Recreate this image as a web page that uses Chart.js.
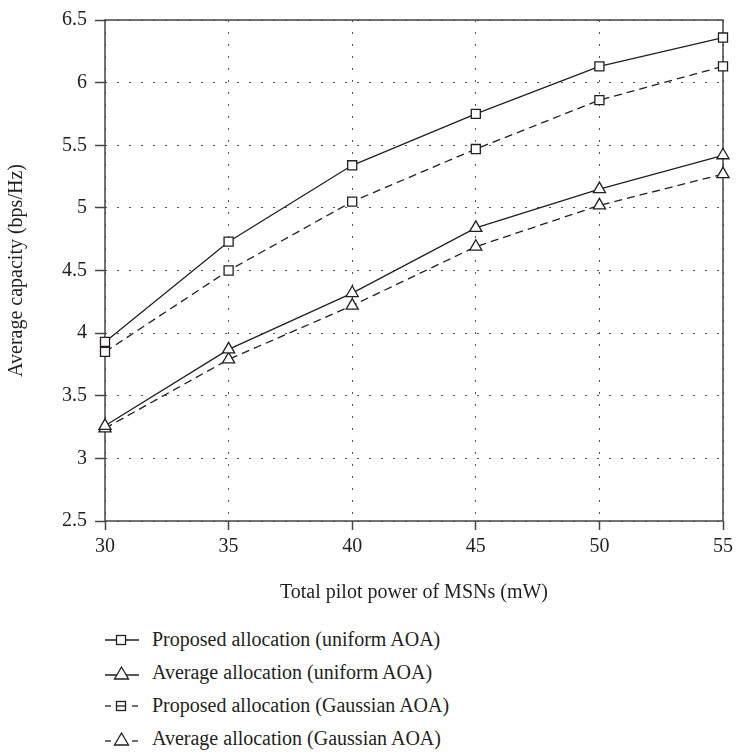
<!DOCTYPE html>
<html lang="en">
<head>
    <meta charset="utf-8" />
    <title>Average capacity vs total pilot power</title>
    <script src="https://cdn.jsdelivr.net/npm/chart.js"></script>
    <style>
        body { margin: 0; background: #fff; }
        #wrap { position: relative; width: 738px; height: 756px; }
        #box { position: absolute; left: 0; top: 0; width: 738px; height: 620px; }
        #legend { position: absolute; left: 0; top: 623px; font-family: "Liberation Serif", serif; font-size: 20px; color: #231f20; }
        .row { position: relative; height: 33px; line-height: 33px; }
        .row svg { position: absolute; left: 102px; top: 7px; }
        .row span { position: absolute; left: 152px; white-space: nowrap; }
    </style>
</head>
<body>
<div id="wrap">
    <div id="box"><canvas id="capChart"></canvas></div>
    <div id="legend"></div>
</div>

<script>
    // values
    var powers = [30, 35, 40, 45, 50, 55];
    var proposedUniform = [3.93, 4.73, 5.34, 5.75, 6.13, 6.36];
    var averageUniform = [3.26, 3.87, 4.32, 4.84, 5.15, 5.42];
    var proposedGauss = [3.85, 4.50, 5.05, 5.47, 5.86, 6.13];
    var averageGauss = [3.24, 3.79, 4.22, 4.69, 5.02, 5.27];
    var seriesNames = [
        'Proposed allocation (uniform AOA)',
        'Average allocation (uniform AOA)',
        'Proposed allocation (Gaussian AOA)',
        'Average allocation (Gaussian AOA)'
    ];

    var ink = '#231f20';
    var font = "'Liberation Serif', serif";

    function pts(vals) {
        return vals.map(function (v, i) { return { x: powers[i], y: v }; });
    }

    function makeSet(label, vals, shape, dashed) {
        return {
            label: label,
            data: pts(vals),
            borderColor: ink,
            borderWidth: 1.3,
            borderDash: dashed ? [8, 5] : [],
            pointStyle: shape,
            pointRadius: shape === 'rect' ? 6.4 : 7,
            pointBackgroundColor: '#fff',
            pointBorderColor: ink,
            pointBorderWidth: 1.3,
            tension: 0,
            clip: false
        };
    }

    // solid frame round the plot area
    var frame = {
        id: 'frame',
        beforeDatasetsDraw: function (chart) {
            var a = chart.chartArea, c = chart.ctx;
            c.save();
            c.strokeStyle = '#444';
            c.lineWidth = 1.5;
            c.strokeRect(a.left, a.top, a.right - a.left, a.bottom - a.top);
            c.restore();
        }
    };

    function gridOpts(len) {
        return {
            color: '#555',
            lineWidth: 1,
            tickLength: len,
            tickColor: '#444',
            tickWidth: 1.5,
            tickBorderDash: []
        };
    }

    var ctx = document.getElementById('capChart').getContext('2d');
    var capChart = new Chart(ctx, {
        type: 'line',
        data: {
            datasets: [
                makeSet(seriesNames[0], proposedUniform, 'rect', false),
                makeSet(seriesNames[1], averageUniform, 'triangle', false),
                makeSet(seriesNames[2], proposedGauss, 'rect', true),
                makeSet(seriesNames[3], averageGauss, 'triangle', true)
            ]
        },
        options: {
            responsive: true,
            maintainAspectRatio: false,
            animation: false,
            layout: { padding: { top: 16, right: 12, left: 0, bottom: 0 } },
            plugins: { legend: { display: false }, tooltip: { enabled: false } },
            scales: {
                x: {
                    type: 'linear',
                    min: 30,
                    max: 55,
                    ticks: { stepSize: 5, color: ink, padding: 5, font: { family: font, size: 20 } },
                    grid: gridOpts(9),
                    border: { display: false, dash: [2, 10] },
                    title: { display: true, text: 'Total pilot power of MSNs (mW)', color: ink,
                             font: { family: font, size: 20 }, padding: { top: 0, bottom: 15 } },
                    afterFit: function (s) { s.height = 99; }
                },
                y: {
                    min: 2.5,
                    max: 6.5,
                    ticks: { stepSize: 0.5, color: ink, padding: 8, font: { family: font, size: 20 },
                             callback: function (v) { return String(v); } },
                    grid: gridOpts(10),
                    border: { display: false, dash: [2, 10] },
                    title: { display: true, text: 'Average capacity (bps/Hz)', color: ink,
                             font: { family: font, size: 20 }, padding: { top: 5, bottom: 0 } },
                    afterFit: function (s) { s.width = 105; }
                }
            }
        },
        plugins: [frame]
    });

    // legend below the chart
    var icons = [
        '<line x1="3" y1="10" x2="37" y2="10"/><rect x="14.5" y="5.5" width="9" height="9" fill="#fff"/>',
        '<line x1="3" y1="12" x2="37" y2="12"/><polygon points="19.5,4 26.5,16 12.5,16" fill="#fff"/>',
        '<line x1="3" y1="10" x2="9" y2="10"/><line x1="30" y1="10" x2="36" y2="10"/><rect x="14.5" y="5.5" width="9" height="9" fill="#fff"/><line x1="14.5" y1="10" x2="23.5" y2="10"/>',
        '<line x1="3" y1="12" x2="9" y2="12"/><line x1="30" y1="12" x2="36" y2="12"/><polygon points="19.5,4 26.5,16 12.5,16" fill="#fff"/>'
    ];
    var html = '';
    for (var i = 0; i < seriesNames.length; i++) {
        html += '<div class="row"><svg width="40" height="20" stroke="' + ink + '" stroke-width="1.3" fill="none">' +
            icons[i] + '</svg><span>' + seriesNames[i] + '</span></div>';
    }
    document.getElementById('legend').innerHTML = html;
</script>
</body>
</html>
